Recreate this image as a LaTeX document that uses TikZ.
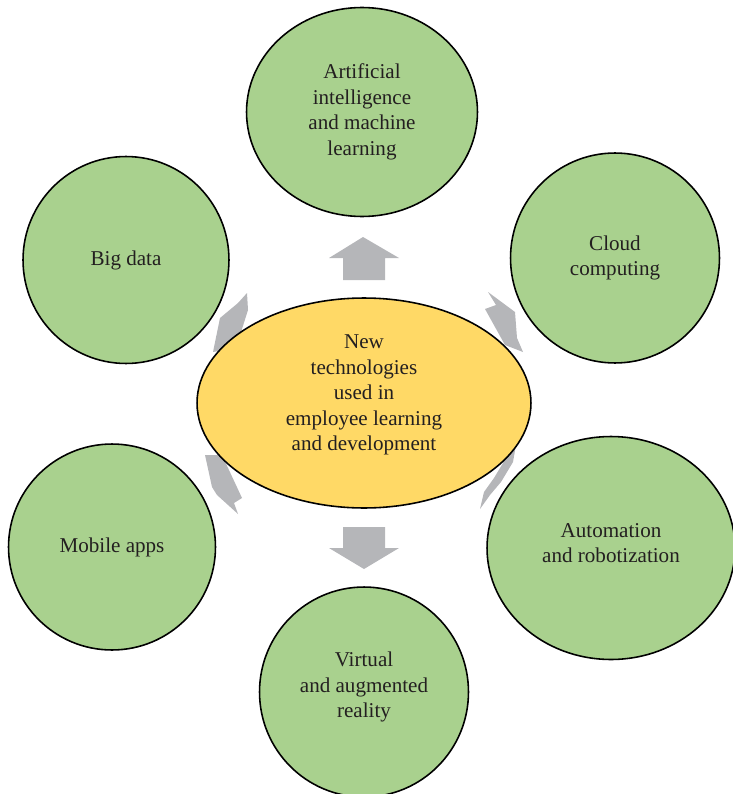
\documentclass[tikz,border=0pt]{standalone}
\usepackage{fontspec}
\setmainfont{Liberation Serif}
\usetikzlibrary{shapes.geometric,backgrounds}
\definecolor{leafgreen}{HTML}{A9D18E}
\definecolor{hubyellow}{HTML}{FFD966}
\definecolor{arrowgray}{HTML}{B5B6B9}
\definecolor{textgray}{HTML}{231F20}
\tikzset{
    tech/.style ={ellipse, draw, fill=leafgreen, line width=0.9pt, inner sep=0pt,
                  align=center, text=textgray, font=\fontsize{12}{14.5}\selectfont},
    hub/.style  ={tech, fill=hubyellow},
    bigarrow/.style={fill=arrowgray, draw=none}
}

\begin{document}
\begin{tikzpicture}[x=0.02cm, y=-0.02cm]

    \useasboundingbox (0,0) rectangle (733,794);

    % centre topic (extra text depth lifts the lines a little)
    \node[hub, minimum width=6.68cm, minimum height=4.2cm, text depth=11.5pt] (hub) at (364,403)
        {New\\ technologies\\ used in\\ employee learning\\ and development};

    % surrounding technologies
    \node[tech, minimum width=4.62cm, minimum height=4.18cm] (ai) at (362,112)
        {Artificial\\ intelligence\\ and machine\\ learning};
    \node[tech, minimum width=4.12cm, minimum height=4.14cm] (big) at (126,260) {Big data};
    \node[tech, minimum width=4.18cm, minimum height=4.2cm] (cloud) at (615,258) {Cloud\\ computing};
    \node[tech, minimum width=4.14cm, minimum height=4.12cm] (mobile) at (112,547) {Mobile apps};
    \node[tech, minimum width=4.96cm, minimum height=4.46cm, text depth=5.5pt] (auto) at (611,548)
        {Automation\\ and robotization};
    \node[tech, minimum width=4.18cm, minimum height=4.2cm, text depth=8pt] (vr) at (364,692)
        {Virtual\\ and augmented\\ reality};

    % block arrows, behind the ellipses
    \begin{scope}[on background layer]
        \fill[bigarrow] (343,280) -- (343,258) -- (329,258) -- (363,237) -- (399,258) -- (385,258) -- (385,280) -- cycle;
        \fill[bigarrow] (343,527) -- (385,527) -- (385,548) -- (399,548) -- (364,569) -- (329,548) -- (343,548) -- cycle;
        \fill[bigarrow] (247,293) -- (248,310) -- (236,348) -- (213,352) -- (220,318) -- (238,303) -- cycle;
        \fill[bigarrow] (488,292) -- (515,312) -- (517,338) -- (523,352) -- (505,345) -- (485,309) -- (496,305) -- cycle;
        \fill[bigarrow] (205,455) -- (222,455) -- (242,498) -- (234,503) -- (238,514) -- (217,495) -- (212,487) -- cycle;
        \fill[bigarrow] (516,445) -- (513,462) -- (501,482) -- (490,495) -- (480,509) -- (484,492) -- (494,478) -- (506,458) -- (508,445) -- cycle;
    \end{scope}

\end{tikzpicture}
\end{document}
